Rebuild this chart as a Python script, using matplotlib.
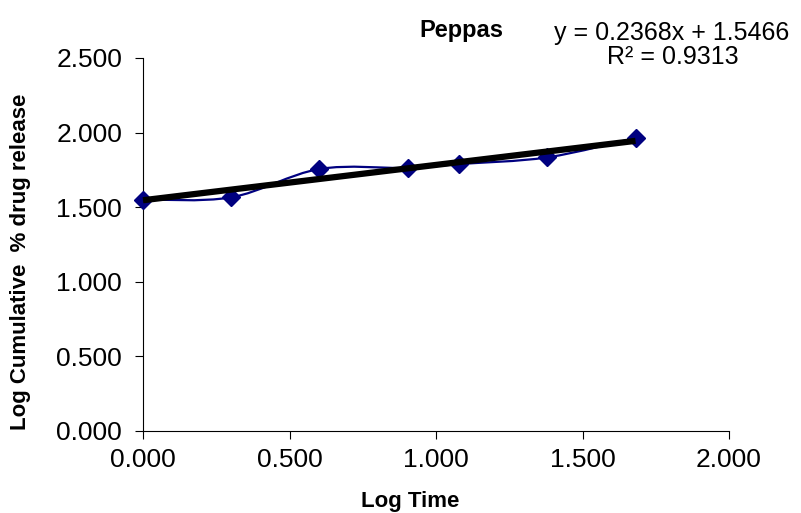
import numpy as np
import matplotlib
matplotlib.use('Agg')
import matplotlib.pyplot as plt
from matplotlib.path import Path
from matplotlib.patches import PathPatch

plt.rcParams['font.family'] = ['Liberation Sans', 'DejaVu Sans']

# data: log time vs log cumulative % drug release
log_time = [0.000, 0.301, 0.602, 0.903, 1.079, 1.380, 1.681]
log_release = [1.551, 1.566, 1.756, 1.763, 1.789, 1.834, 1.964]
slope = 0.2368
intercept = 1.5466
r2 = 0.9313

x_ticks = [0.0, 0.5, 1.0, 1.5, 2.0]
y_ticks = [0.0, 0.5, 1.0, 1.5, 2.0, 2.5]

W, H = 801, 513
fig = plt.figure(figsize=(W / 100, H / 100), dpi=100)
ax = fig.add_axes([143 / W, 1 - 431 / H, 586 / W, 373 / H])

# smoothed line (bezier through the points, like Excel's smoothed line)
pts = np.column_stack([log_time, log_release])
ext = np.vstack([pts[0], pts, pts[-1]])
verts = [tuple(pts[0])]
codes = [Path.MOVETO]
for i in range(1, len(ext) - 2):
    p0, p1, p2, p3 = ext[i - 1], ext[i], ext[i + 1], ext[i + 2]
    c1 = p1 + (p2 - p0) / 6
    c2 = p2 - (p3 - p1) / 6
    verts += [tuple(c1), tuple(c2), tuple(p2)]
    codes += [Path.CURVE4] * 3
ax.add_patch(PathPatch(Path(verts, codes), facecolor='none',
                       edgecolor='#000080', lw=1.6, zorder=2))
ax.plot(log_time, log_release, linestyle='none', marker='D', ms=9.5,
        color='#000080', zorder=3, clip_on=False)

# linear trendline
tx = np.array([log_time[0], log_time[-1]])
ax.plot(tx, slope * tx + intercept, color='black', lw=4.5,
        solid_capstyle='butt', zorder=4, clip_on=False)

ax.set_xlim(0, 2)
ax.set_ylim(0, 2.5)
ax.set_xticks(x_ticks)
ax.set_yticks(y_ticks)
ax.set_xticklabels([f'{v:.3f}' for v in x_ticks])
ax.set_yticklabels([f'{v:.3f}' for v in y_ticks])
ax.tick_params(direction='out', length=6, width=0.8, labelsize=19)
ax.tick_params(axis='x', pad=6)
ax.tick_params(axis='y', pad=9)
ax.spines['top'].set_visible(False)
ax.spines['right'].set_visible(False)

fig.text(410 / W, 1 - 501 / H, 'Log Time', ha='center', va='center',
         fontsize=16, fontweight='bold')
fig.text(21 / W, 1 - 262 / H, 'Log Cumulative  % drug release',
         ha='center', va='center', rotation=90,
         fontsize=16, fontweight='bold')

fig.text(461 / W, 1 - 30 / H, 'Peppas', ha='center', va='center',
         fontsize=17, fontweight='bold')
fig.text(672 / W, 1 - 33 / H, f'y = {slope}x + {intercept}',
         ha='center', va='center', fontsize=18)
fig.text(673 / W, 1 - 57 / H, f'R² = {r2}',
         ha='center', va='center', fontsize=18)

fig.savefig('out.png', dpi=100)
